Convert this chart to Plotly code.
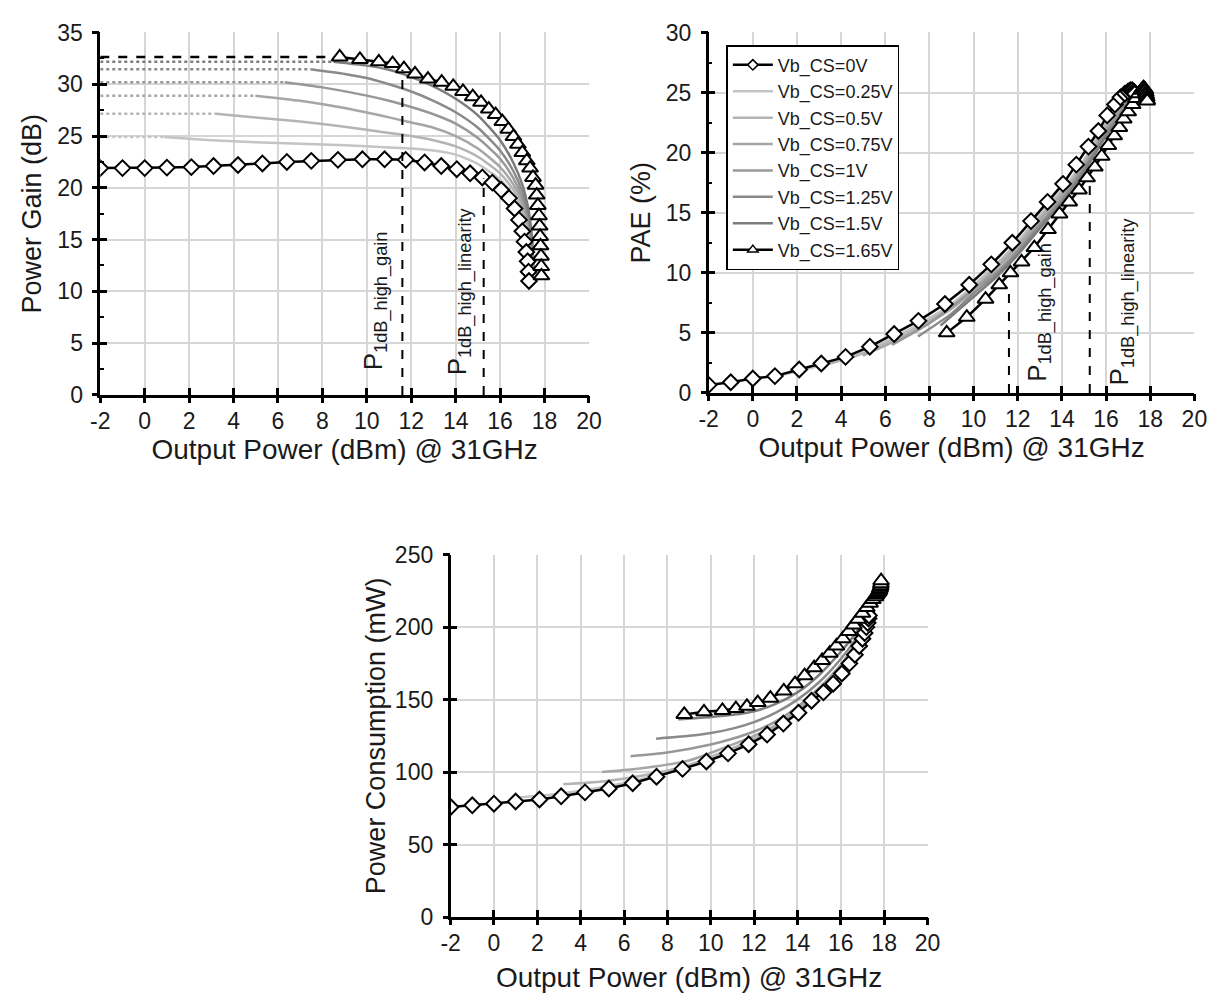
import plotly.graph_objects as go

# ---------------- data ----------------
# Vb_CS = 0 V  (diamonds)
pout_0V = [-2, -1, 0, 1, 2.1, 3.1, 4.2, 5.3, 6.4, 7.5, 8.7, 9.8, 10.8, 11.75, 12.6, 13.35,
           14.05, 14.65, 15.2, 15.65, 16.05, 16.4, 16.65, 16.85, 17.0, 17.1, 17.18, 17.24, 17.28, 17.3]
gain_0V = [21.9, 21.9, 21.9, 21.95, 22.0, 22.1, 22.2, 22.35, 22.5, 22.6, 22.7, 22.75, 22.75, 22.7, 22.45, 22.1,
           21.8, 21.4, 21.0, 20.5, 19.8, 19.0, 18.0, 16.9, 15.8, 14.8, 13.8, 12.9, 11.9, 11.0]
pae_0V = [0.67, 0.89, 1.2, 1.4, 1.95, 2.45, 3.0, 3.85, 4.9, 6.0, 7.4, 9.0, 10.7, 12.5, 14.3, 15.9,
          17.4, 19.0, 20.5, 21.8, 23.1, 24.0, 24.6, 24.9, 25.1, 25.2, 25.2, 25.1, 25.0, 24.9]
pdc_0V = [75.9, 77.1, 78.2, 79.7, 81.1, 83.3, 86.0, 88.7, 92.3, 96.8, 102.2, 107.3, 112.9, 119.2, 125.9, 133.5,
          140.9, 149.2, 155, 161, 168, 175, 181, 187, 192, 196, 200, 203, 206, 208]

# Vb_CS = 1.65 V  (triangles)
pout_165 = [8.78, 9.69, 10.54, 11.16, 11.67, 12.17, 12.75, 13.37, 13.89, 14.33, 14.77, 15.14, 15.49, 15.80,
            16.10, 16.37, 16.6, 16.8, 17.0, 17.2, 17.35, 17.48, 17.6, 17.65, 17.7, 17.75, 17.78, 17.8,
            17.82, 17.84, 17.85, 17.86]
gain_165 = [32.64, 32.4, 32.17, 32.0, 31.5, 31.0, 30.5, 30.2, 29.8, 29.3, 28.8, 28.25, 27.6, 27.07,
            26.4, 25.65, 24.95, 24.2, 23.4, 22.6, 21.9, 21.0, 20.25, 19.3, 18.3, 17.3, 16.3, 15.3,
            14.4, 13.4, 12.4, 11.5]
pae_165 = [5.0, 6.3, 7.8, 9.0, 10.0, 10.9, 12.1, 13.6, 14.9, 15.9, 16.9, 17.9, 18.8, 19.7,
           20.6, 21.4, 22.1, 22.8, 23.4, 24.0, 24.5, 24.9, 25.2, 25.3, 25.4, 25.3, 25.2, 25.0,
           24.8, 24.6, 24.4, 24.3]
pdc_165 = [139.8, 141.6, 142.5, 143.8, 145.4, 148.0, 151.0, 156.0, 161.0, 166.5, 172.0, 177.0, 182.0, 187.0,
           192.0, 197.0, 201.5, 205.5, 209.5, 213.5, 216.5, 219.0, 221.0, 222.5, 223.5, 224.5, 225.5, 226.5,
           227.5, 228.5, 230.0, 232.0]

# intermediate bias points (solid grey curves)
pout_025 = [0.87, 3, 5, 7, 9, 11, 12, 13, 14, 15, 16, 16.6, 17.0, 17.3, 17.45, 17.5]
gain_025 = [24.9, 24.6, 24.4, 24.25, 24.1, 23.9, 23.8, 23.6, 23.2, 22.3, 20.8, 19.3, 17.6, 15.5, 13.3, 11.9]
pae_025 = [1.3, 2.25, 3.4, 5.2, 7.4, 10.7, 12.6, 14.8, 16.9, 19.4, 22.5, 23.9, 24.7, 25.1, 25.2, 25.2]
pdc_025 = [82, 85, 89.5, 96, 104.5, 115, 122, 130.5, 141, 154, 169, 182, 193, 202, 207, 210]

pout_050 = [3.2, 5, 7, 9, 11, 12, 13, 14, 15, 16, 16.6, 17.0, 17.3, 17.45, 17.5]
gain_050 = [27.15, 26.8, 26.4, 25.9, 25.3, 25.0, 24.6, 24.0, 23.0, 21.4, 19.8, 18.0, 15.8, 13.5, 12.0]
pae_050 = [2.3, 3.3, 5.0, 7.2, 10.5, 12.4, 14.6, 16.7, 19.2, 22.3, 23.7, 24.6, 25.0, 25.1, 25.2]
pdc_050 = [91.6, 93.5, 98, 105, 116.5, 123, 131, 142, 155, 170, 183, 194, 203, 208, 211]

pout_075 = [4.98, 7, 9, 11, 12, 13, 14, 15, 16, 16.6, 17.0, 17.3, 17.45, 17.5]
gain_075 = [28.9, 28.4, 27.7, 26.8, 26.3, 25.8, 25.0, 23.8, 22.0, 20.3, 18.5, 16.2, 13.8, 12.1]
pae_075 = [3.1, 4.8, 7.0, 10.3, 12.2, 14.4, 16.5, 19.0, 22.0, 23.5, 24.5, 24.9, 25.0, 25.1]
pdc_075 = [100, 103, 108, 119, 125, 132.5, 143, 156, 172, 185, 195, 204, 209, 212]

pout_100 = [6.3, 8, 10, 11, 12, 13, 14, 15, 16, 16.6, 17.0, 17.3, 17.45, 17.5]
gain_100 = [30.2, 29.7, 28.9, 28.4, 27.8, 27.1, 26.2, 24.8, 22.8, 20.9, 19.0, 16.6, 14.0, 12.2]
pae_100 = [4.0, 5.8, 8.6, 10.0, 11.9, 14.1, 16.2, 18.8, 21.8, 23.3, 24.4, 24.9, 25.0, 25.1]
pdc_100 = [111, 113.5, 119, 123, 128, 135, 145, 158, 174, 187, 197, 205, 210, 213]

pout_125 = [7.48, 9, 10, 11, 12, 13, 14, 15, 16, 16.6, 17.0, 17.3, 17.45, 17.5]
gain_125 = [31.45, 31.0, 30.6, 30.0, 29.3, 28.4, 27.3, 25.8, 23.6, 21.6, 19.6, 17.0, 14.3, 12.3]
pae_125 = [4.7, 6.6, 8.3, 9.8, 11.7, 13.9, 16.0, 18.6, 21.6, 23.1, 24.3, 24.8, 25.0, 25.1]
pdc_125 = [123, 125, 127, 130, 134.5, 141, 150, 162, 178, 190, 200, 208, 212, 215]

pout_150 = [8.5, 10, 11, 12, 13, 14, 15, 16, 16.6, 17.0, 17.3, 17.45, 17.5]
gain_150 = [32.17, 31.8, 31.4, 30.7, 29.8, 28.6, 27.0, 24.6, 22.4, 20.3, 17.6, 14.8, 12.5]
pae_150 = [5.6, 8.0, 9.6, 11.5, 13.7, 15.8, 18.4, 21.4, 22.9, 24.1, 24.7, 25.0, 25.1]
pdc_150 = [136.4, 138, 139.5, 142, 147, 155, 167, 183, 194, 203, 210, 214, 217]

series_names = ["Vb_CS=0V", "Vb_CS=0.25V", "Vb_CS=0.5V", "Vb_CS=0.75V",
                "Vb_CS=1V", "Vb_CS=1.25V", "Vb_CS=1.5V", "Vb_CS=1.65V"]

# P1dB markers
p1db_x = [11.6, 15.26]
p1db_gain_top = [31.4, 20.9]
p1db_pae_top = [8.9, 17.8]
p1db_labels = ["P<sub>1dB_high_gain</sub>", "P<sub>1dB_high_linearity</sub>"]

x_ticks = [-2, 0, 2, 4, 6, 8, 10, 12, 14, 16, 18, 20]
x_ticktext = ["-2", "0", "2", "4", "6", "8", "10", "12", "14", "16", "18", "20"]
gain_ticks = [0, 5, 10, 15, 20, 25, 30, 35]
pae_ticks = [0, 5, 10, 15, 20, 25, 30]
pdc_ticks = [0, 50, 100, 150, 200, 250]
gain_minor = [2.5, 7.5, 12.5, 17.5, 22.5, 27.5, 32.5]
pae_minor = [2.5, 7.5, 12.5, 17.5, 22.5, 27.5]

# ---------------- styles ----------------
FONT = "Liberation Sans, Arial, sans-serif"
TXT = "#1a1a1a"
GRID = "#d6d6d6"
TICKF = 23
TITLEF_X = 28
TITLEF_Y = 27
gray_colors = ["#c4c4c4", "#b4b4b4", "#a6a6a6", "#989898", "#8a8a8a", "#7c7c7c"]

gray_sets = [
    (pout_025, gain_025, pae_025, pdc_025),
    (pout_050, gain_050, pae_050, pdc_050),
    (pout_075, gain_075, pae_075, pdc_075),
    (pout_100, gain_100, pae_100, pdc_100),
    (pout_125, gain_125, pae_125, pdc_125),
    (pout_150, gain_150, pae_150, pdc_150),
]

fig = go.Figure()
XMIN = x_ticks[0]
axes = [("x", "y"), ("x2", "y2"), ("x3", "y3")]

# ---- grey curves (drawn first, under the marker series) ----
for k, (px, g, p, d) in enumerate(gray_sets):
    col = gray_colors[k]
    name = series_names[k + 1]
    fig.add_trace(go.Scatter(x=[XMIN, px[0]], y=[g[0], g[0]], mode="lines",
                             line=dict(color=col, width=2.5, dash="dot"),
                             showlegend=False, hoverinfo="skip", xaxis="x", yaxis="y"))
    for (xa, ya), yv in zip(axes, [g, p, d]):
        fig.add_trace(go.Scatter(x=px, y=yv, mode="lines", name=name,
                                 line=dict(color=col, width=2.5, shape="spline", smoothing=0.6),
                                 showlegend=(xa == "x2"), legendrank=k + 2,
                                 xaxis=xa, yaxis=ya))

# dashed extension of the 1.65 V gain
fig.add_trace(go.Scatter(x=[XMIN, pout_165[0]], y=[gain_165[0], gain_165[0]], mode="lines",
                         line=dict(color="black", width=2.5, dash="dash"),
                         showlegend=False, hoverinfo="skip", xaxis="x", yaxis="y"))

# ---- 0 V and 1.65 V series ----
for (xa, ya), y0, y1 in zip(axes, [gain_0V, pae_0V, pdc_0V], [gain_165, pae_165, pdc_165]):
    fig.add_trace(go.Scatter(x=pout_0V, y=y0, mode="lines+markers", name=series_names[0],
                             line=dict(color="black", width=2.5),
                             marker=dict(symbol="diamond", size=12, color="white",
                                         line=dict(color="black", width=2)),
                             showlegend=False, xaxis=xa, yaxis=ya))
    fig.add_trace(go.Scatter(x=pout_165, y=y1, mode="lines+markers", name=series_names[7],
                             line=dict(color="black", width=2.5),
                             marker=dict(symbol="triangle-up", size=14, color="white",
                                         line=dict(color="black", width=2)),
                             showlegend=False, xaxis=xa, yaxis=ya))

# legend entries with small symbols, as in the reference legend
fig.add_trace(go.Scatter(x=[None], y=[None], mode="lines+markers", name=series_names[0],
                         line=dict(color="black", width=2.5),
                         marker=dict(symbol="diamond", size=8, color="white",
                                     line=dict(color="black", width=1.5)),
                         legendrank=1, xaxis="x2", yaxis="y2"))
fig.add_trace(go.Scatter(x=[None], y=[None], mode="lines+markers", name=series_names[7],
                         line=dict(color="black", width=2.5),
                         marker=dict(symbol="triangle-up", size=9, color="white",
                                     line=dict(color="black", width=1.5)),
                         legendrank=8, xaxis="x2", yaxis="y2"))

# ---- P1dB dashed verticals ----
for xv, gt, pt in zip(p1db_x, p1db_gain_top, p1db_pae_top):
    fig.add_trace(go.Scatter(x=[xv, xv], y=[0, gt], mode="lines",
                             line=dict(color="black", width=2, dash="dash"),
                             showlegend=False, hoverinfo="skip", xaxis="x", yaxis="y"))
    fig.add_trace(go.Scatter(x=[xv, xv], y=[0, pt], mode="lines",
                             line=dict(color="black", width=2, dash="dash"),
                             showlegend=False, hoverinfo="skip", xaxis="x2", yaxis="y2"))

# empty traces so the overlay tick axes are drawn
for xa, ya in [("x4", "y4"), ("x5", "y5"), ("x6", "y6")]:
    fig.add_trace(go.Scatter(x=[None], y=[None], mode="lines", showlegend=False,
                             hoverinfo="skip", xaxis=xa, yaxis=ya))

# ---- labels ----
lab_pos_gain = [(10.35, 9.1), (14.15, 10.0)]
lab_pos_pae = [(12.98, 6.7), (16.67, 7.6)]
for txt, (gx, gy), (ax_, ay_) in zip(p1db_labels, lab_pos_gain, lab_pos_pae):
    fig.add_annotation(x=gx, y=gy, xref="x", yref="y", text=txt, textangle=-90,
                       showarrow=False, font=dict(size=26, color=TXT, family=FONT))
    fig.add_annotation(x=ax_, y=ay_, xref="x2", yref="y2", text=txt, textangle=-90,
                       showarrow=False, font=dict(size=26, color=TXT, family=FONT))

# ---------------- axes ----------------
def xax(domain, anchor, title, standoff):
    return dict(domain=domain, anchor=anchor, range=[-2, 20], tickvals=x_ticks, ticktext=x_ticktext,
                showgrid=True, gridcolor=GRID, gridwidth=2, zeroline=False,
                showline=True, linecolor="black", linewidth=2.5,
                ticks="inside", ticklen=7, tickwidth=2.5, tickcolor="black",
                tickfont=dict(size=TICKF, color=TXT, family=FONT), ticklabelstandoff=4,
                title=dict(text=title, font=dict(size=TITLEF_X, color=TXT, family=FONT), standoff=standoff),
                fixedrange=True)

def yax(domain, anchor, rng, tv, title, standoff):
    return dict(domain=domain, anchor=anchor, range=rng, tickvals=tv,
                showgrid=True, gridcolor=GRID, gridwidth=2, zeroline=False,
                showline=True, linecolor="black", linewidth=2.5,
                ticks="inside", ticklen=7, tickwidth=2.5, tickcolor="black",
                tickfont=dict(size=TICKF, color=TXT, family=FONT), ticklabelstandoff=10,
                title=dict(text=title, font=dict(size=TITLEF_Y, color=TXT, family=FONT), standoff=standoff),
                fixedrange=True)

def overlay_x(over, anchor):
    return dict(overlaying=over, anchor=anchor, range=[-2, 20], tickvals=x_ticks,
                showgrid=False, zeroline=False, showline=False, showticklabels=False,
                ticks="outside", ticklen=7, tickwidth=2.5, tickcolor="black", fixedrange=True)

def overlay_y(over, anchor, rng, tv):
    return dict(overlaying=over, anchor=anchor, range=rng, tickvals=tv,
                showgrid=False, zeroline=False, showline=False, showticklabels=False,
                ticks="outside", ticklen=7, tickwidth=2.5, tickcolor="black", fixedrange=True)

y1 = yax([1 - 392 / 1008, 1 - 20 / 1008], "x", [0, 35], gain_ticks, "Power Gain (dB)", 8)
y1["minor"] = dict(tickvals=gain_minor, ticks="inside", ticklen=4, tickwidth=2, tickcolor="black", showgrid=False)
y2 = yax([1 - 390 / 1008, 1 - 20 / 1008], "x2", [0, 30], pae_ticks, "PAE (%)", 8)
y2["minor"] = dict(tickvals=pae_minor, ticks="inside", ticklen=4, tickwidth=2, tickcolor="black", showgrid=False)

fig.update_layout(
    width=1229, height=1008,
    margin=dict(l=0, r=0, t=0, b=0),
    paper_bgcolor="white", plot_bgcolor="white",
    font=dict(family=FONT, color=TXT),
    xaxis=xax([92 / 1229, 590 / 1229], "y", "Output Power (dBm) @ 31GHz", 4),
    yaxis=y1,
    xaxis2=xax([712 / 1229, 1207 / 1229], "y2", "Output Power (dBm) @ 31GHz", 4),
    yaxis2=y2,
    xaxis3=xax([449 / 1229, 935 / 1229], "y3", "Output Power (dBm) @ 31GHz", 12),
    yaxis3=yax([1 - 928 / 1008, 1 - 556 / 1008], "x3", [0, 250], pdc_ticks, "Power Consumption (mW)", 2),
    xaxis4=overlay_x("x", "y"),
    yaxis4=overlay_y("y", "x", [0, 35], gain_ticks),
    xaxis5=overlay_x("x2", "y2"),
    yaxis5=overlay_y("y2", "x2", [0, 30], pae_ticks),
    xaxis6=overlay_x("x3", "y3"),
    yaxis6=overlay_y("y3", "x3", [0, 250], pdc_ticks),
    legend=dict(x=730 / 1229, y=1 - 33 / 1008, xanchor="left", yanchor="top",
                bgcolor="white", bordercolor="black", borderwidth=1.5,
                font=dict(size=18, color=TXT, family=FONT),
                itemwidth=40, tracegroupgap=0, traceorder="normal"),
    showlegend=True,
)

fig.write_html("out.html")
